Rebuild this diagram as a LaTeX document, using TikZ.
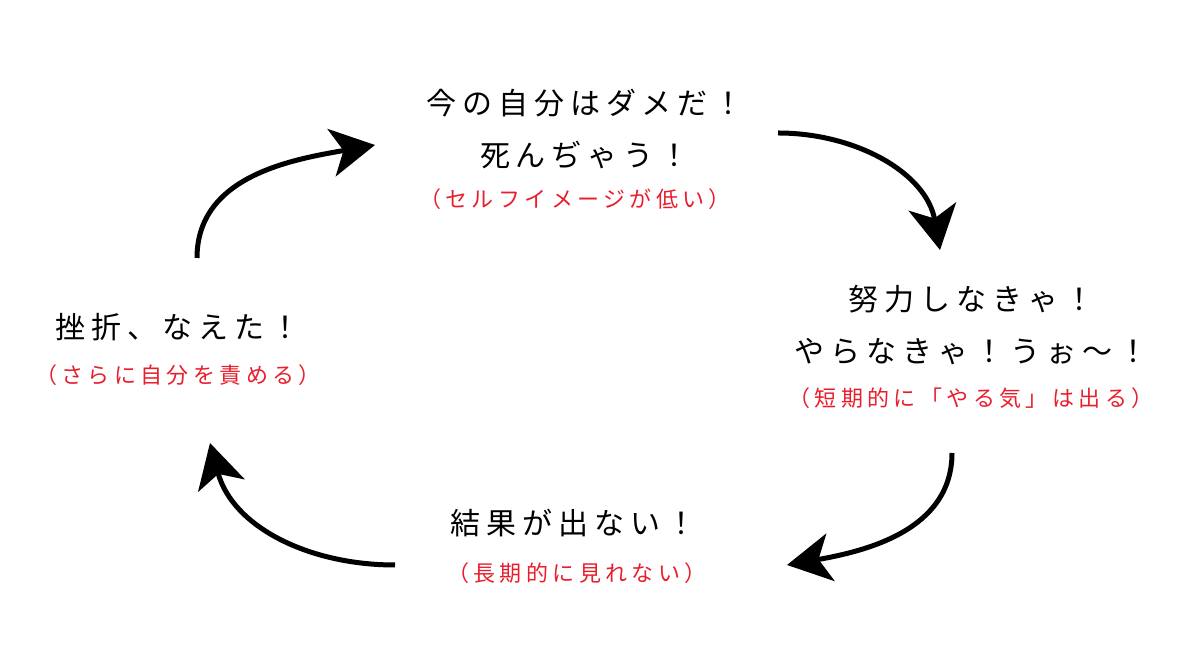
\documentclass[tikz,border=0pt]{standalone}
\usepackage{fontspec}
\newfontfamily\jpfont{Noto Sans CJK JP}[LetterSpace=20]
\usetikzlibrary{arrows.meta}
\definecolor{notered}{RGB}{232,30,45}
\tikzstyle{main} = [text centered, align=center, inner sep=0pt, font=\jpfont\fontsize{30}{52}\selectfont]
\tikzstyle{note} = [text centered, align=center, inner sep=0pt, text=notered, font=\jpfont\fontsize{22}{26}\selectfont]
\tikzstyle{arrow} = [-{Stealth[length=44pt,width=48pt,inset=12pt]}, line width=5pt]

\begin{document}
\begin{tikzpicture}[x=1pt, y=1pt]
    \useasboundingbox (0,0) rectangle (1200,668);

    \node (self)      [main] at (585,539) {今の自分はダメだ！\\死んぢゃう！};
    \node (selfnote)  [note] at (575,469) {（セルフイメージが低い）};
    \node (effort)    [main] at (971,343) {努力しなきゃ！\\やらなきゃ！うぉ～！};
    \node (effnote)   [note] at (971,270) {（短期的に「やる気」は出る）};
    \node (result)    [main] at (573,145) {結果が出ない！};
    \node (resnote)   [note] at (577,95)  {（長期的に見れない）};
    \node (fail)      [main] at (178,341) {挫折、なえた！};
    \node (failnote)  [note] at (178,293) {（さらに自分を責める）};

    \coordinate (a1s) at (197,410); \coordinate (a1e) at (375,523);
    \coordinate (a2s) at (778,535); \coordinate (a2e) at (940,418);
    \coordinate (a3s) at (952,215); \coordinate (a3e) at (787,103);
    \coordinate (a4s) at (395,103); \coordinate (a4e) at (210,225);

    \draw [arrow] (a1s) to[out=90,  in=190] (a1e);
    \draw [arrow] (a2s) to[out=0,   in=100] (a2e);
    \draw [arrow] (a3s) to[out=270, in=10]  (a3e);
    \draw [arrow] (a4s) to[out=180, in=285] (a4e);
\end{tikzpicture}
\end{document}
